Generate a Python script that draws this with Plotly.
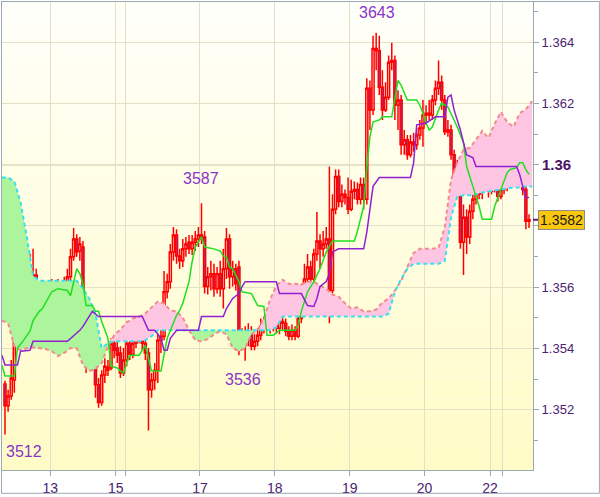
import numpy as np
import plotly.graph_objects as go

# ---------------- data ----------------
# hourly candles, position index 0..168
opens = [
    1.35284, 1.35213, 1.35245, 1.35297, 1.35427, 1.35491, 1.35423, 1.35547, 1.35466, 1.35627,
    1.35640, 1.35498, 1.35524, 1.35569, 1.35514, 1.35589, 1.35563, 1.35602, 1.35579, 1.35595,
    1.35605, 1.35634, 1.35699, 1.35757, 1.35718, 1.35731, 1.35427, 1.35368, 1.35433, 1.35394,
    1.35281, 1.35223, 1.35313, 1.35339, 1.35336, 1.35417, 1.35401, 1.35385, 1.35320, 1.35362,
    1.35417, 1.35381, 1.35417, 1.35443, 1.35472, 1.35417, 1.35385, 1.35265, 1.35297, 1.35329,
    1.35427, 1.35440, 1.35585, 1.35618, 1.35715, 1.35770, 1.35702, 1.35686, 1.35725, 1.35747,
    1.35725, 1.35747, 1.35757, 1.35770, 1.35764, 1.35602, 1.35634, 1.35644, 1.35595, 1.35644,
    1.35595, 1.35660, 1.35757, 1.35634, 1.35660, 1.35666, 1.35423, 1.35443, 1.35427, 1.35456,
    1.35407, 1.35423, 1.35443, 1.35472, 1.35482, 1.35491, 1.35472, 1.35482, 1.35466, 1.35488,
    1.35482, 1.35456, 1.35440, 1.35459, 1.35440, 1.35498, 1.35572, 1.35627, 1.35666, 1.35627,
    1.35708, 1.35751, 1.35725, 1.35741, 1.35757, 1.35589, 1.35854, 1.35961, 1.35880, 1.35903,
    1.35893, 1.35854, 1.35913, 1.35919, 1.35887, 1.35935, 1.35887, 1.36249, 1.36178, 1.36379,
    1.36372, 1.36253, 1.36178, 1.36220, 1.36334, 1.36340, 1.36194, 1.36211, 1.36065, 1.36081,
    1.36032, 1.36074, 1.36065, 1.36097, 1.36120, 1.36162, 1.36168, 1.36162, 1.36211, 1.36249,
    1.36269, 1.36211, 1.36107, 1.36113, 1.36032, 1.35935, 1.35929, 1.35747, 1.35828, 1.35764,
    1.35848, 1.35887, 1.35925, 1.35909, 1.35968, 1.35984, 1.35913, 1.35925, 1.35932, 1.35896,
    1.35919, 1.35935, 1.36071, 1.36049, 1.36081, 1.36074, 1.36091, 1.35919, 1.35815,
]
highs = [
    1.35294, 1.35265, 1.35362, 1.35466, 1.35563, 1.35524, 1.35666, 1.35595, 1.35708, 1.35725,
    1.35660, 1.35563, 1.35595, 1.35589, 1.35611, 1.35627, 1.35621, 1.35627, 1.35618, 1.35634,
    1.35660, 1.35725, 1.35793, 1.35773, 1.35764, 1.35751, 1.35466, 1.35456, 1.35466, 1.35417,
    1.35303, 1.35329, 1.35368, 1.35362, 1.35433, 1.35440, 1.35427, 1.35407, 1.35401, 1.35449,
    1.35433, 1.35440, 1.35466, 1.35498, 1.35491, 1.35449, 1.35401, 1.35320, 1.35352, 1.35449,
    1.35466, 1.35653, 1.35644, 1.35741, 1.35796, 1.35789, 1.35725, 1.35757, 1.35764, 1.35770,
    1.35770, 1.35783, 1.35796, 1.35874, 1.35783, 1.35666, 1.35686, 1.35676, 1.35666, 1.35686,
    1.35725, 1.35793, 1.35773, 1.35686, 1.35676, 1.35686, 1.35466, 1.35472, 1.35482, 1.35472,
    1.35446, 1.35466, 1.35498, 1.35504, 1.35504, 1.35504, 1.35504, 1.35498, 1.35504, 1.35504,
    1.35498, 1.35472, 1.35478, 1.35472, 1.35569, 1.35611, 1.35676, 1.35708, 1.35686, 1.35725,
    1.35845, 1.35773, 1.35783, 1.35796, 1.35994, 1.35903, 1.35984, 1.35984, 1.35935, 1.35919,
    1.35958, 1.35951, 1.35945, 1.35942, 1.35958, 1.35958, 1.36282, 1.36275, 1.36421, 1.36431,
    1.36421, 1.36308, 1.36269, 1.36356, 1.36398, 1.36356, 1.36243, 1.36227, 1.36113, 1.36097,
    1.36097, 1.36104, 1.36120, 1.36146, 1.36211, 1.36194, 1.36211, 1.36227, 1.36275, 1.36340,
    1.36291, 1.36227, 1.36146, 1.36130, 1.36049, 1.36016, 1.35945, 1.35870, 1.35854, 1.35870,
    1.35919, 1.35951, 1.35951, 1.35990, 1.36016, 1.36000, 1.35951, 1.35958, 1.35951, 1.35942,
    1.35958, 1.36097, 1.36097, 1.36113, 1.36120, 1.36130, 1.36107, 1.35935, 1.35838,
]
lows = [
    1.35119, 1.35193, 1.35232, 1.35255, 1.35407, 1.35394, 1.35407, 1.35440, 1.35449, 1.35563,
    1.35466, 1.35482, 1.35504, 1.35491, 1.35504, 1.35547, 1.35547, 1.35563, 1.35569, 1.35576,
    1.35572, 1.35621, 1.35686, 1.35699, 1.35686, 1.35417, 1.35320, 1.35346, 1.35342, 1.35239,
    1.35206, 1.35213, 1.35287, 1.35310, 1.35329, 1.35368, 1.35352, 1.35303, 1.35310, 1.35342,
    1.35362, 1.35368, 1.35401, 1.35417, 1.35394, 1.35362, 1.35132, 1.35239, 1.35265, 1.35287,
    1.35385, 1.35427, 1.35563, 1.35595, 1.35686, 1.35676, 1.35660, 1.35666, 1.35699, 1.35708,
    1.35705, 1.35718, 1.35731, 1.35741, 1.35579, 1.35576, 1.35589, 1.35569, 1.35579, 1.35569,
    1.35530, 1.35627, 1.35595, 1.35602, 1.35589, 1.35378, 1.35401, 1.35360, 1.35407, 1.35394,
    1.35394, 1.35407, 1.35427, 1.35449, 1.35459, 1.35449, 1.35456, 1.35449, 1.35446, 1.35459,
    1.35440, 1.35427, 1.35427, 1.35427, 1.35433, 1.35482, 1.35547, 1.35611, 1.35602, 1.35611,
    1.35686, 1.35660, 1.35699, 1.35725, 1.35482, 1.35579, 1.35838, 1.35861, 1.35861, 1.35870,
    1.35838, 1.35848, 1.35887, 1.35870, 1.35870, 1.35854, 1.35870, 1.36113, 1.36162, 1.36308,
    1.36227, 1.36146, 1.36172, 1.36211, 1.36308, 1.36146, 1.36113, 1.36032, 1.36032, 1.36016,
    1.36023, 1.36042, 1.36049, 1.36081, 1.36058, 1.36130, 1.36146, 1.36146, 1.36194, 1.36227,
    1.36178, 1.36097, 1.36091, 1.36016, 1.35919, 1.35903, 1.35725, 1.35640, 1.35708, 1.35741,
    1.35822, 1.35870, 1.35887, 1.35887, 1.35958, 1.35893, 1.35903, 1.35909, 1.35880, 1.35887,
    1.35903, 1.35913, 1.36023, 1.36026, 1.36049, 1.36055, 1.35900, 1.35789, 1.35793,
]
closes = [
    1.35213, 1.35245, 1.35303, 1.35427, 1.35498, 1.35417, 1.35547, 1.35466, 1.35627, 1.35640,
    1.35498, 1.35524, 1.35569, 1.35514, 1.35589, 1.35563, 1.35602, 1.35579, 1.35595, 1.35605,
    1.35634, 1.35699, 1.35757, 1.35715, 1.35741, 1.35433, 1.35368, 1.35433, 1.35394, 1.35281,
    1.35223, 1.35313, 1.35342, 1.35329, 1.35417, 1.35394, 1.35378, 1.35320, 1.35362, 1.35417,
    1.35381, 1.35417, 1.35443, 1.35472, 1.35417, 1.35385, 1.35265, 1.35297, 1.35329, 1.35427,
    1.35440, 1.35585, 1.35618, 1.35715, 1.35770, 1.35702, 1.35686, 1.35725, 1.35741, 1.35725,
    1.35747, 1.35757, 1.35770, 1.35757, 1.35602, 1.35634, 1.35644, 1.35595, 1.35644, 1.35595,
    1.35660, 1.35757, 1.35634, 1.35660, 1.35611, 1.35423, 1.35443, 1.35427, 1.35449, 1.35407,
    1.35423, 1.35443, 1.35472, 1.35482, 1.35491, 1.35466, 1.35482, 1.35466, 1.35488, 1.35482,
    1.35456, 1.35440, 1.35459, 1.35440, 1.35498, 1.35572, 1.35627, 1.35666, 1.35627, 1.35708,
    1.35751, 1.35725, 1.35741, 1.35757, 1.35589, 1.35854, 1.35961, 1.35880, 1.35903, 1.35893,
    1.35854, 1.35913, 1.35919, 1.35887, 1.35935, 1.35887, 1.36249, 1.36178, 1.36379, 1.36372,
    1.36253, 1.36178, 1.36220, 1.36334, 1.36340, 1.36194, 1.36211, 1.36065, 1.36081, 1.36032,
    1.36074, 1.36065, 1.36097, 1.36120, 1.36162, 1.36168, 1.36162, 1.36211, 1.36249, 1.36269,
    1.36211, 1.36107, 1.36113, 1.36032, 1.35935, 1.35929, 1.35747, 1.35828, 1.35764, 1.35848,
    1.35887, 1.35925, 1.35903, 1.35968, 1.35990, 1.35913, 1.35925, 1.35932, 1.35896, 1.35919,
    1.35935, 1.36071, 1.36049, 1.36081, 1.36074, 1.36091, 1.35919, 1.35815, 1.35820,
]
candle_idx = list(range(len(closes)))

# Tenkan-sen (green)
tenkan_idx = [-1, 0, 3, 4, 6, 8, 9, 11, 12, 14, 15, 17, 20, 21, 22, 23, 24, 25, 26, 28,
              29, 30, 31, 33, 34, 36, 37, 38, 39, 40, 43, 45, 46, 47, 50, 51, 52, 55, 56, 57,
              59, 60, 61, 63, 64, 67, 69, 70, 71, 72, 73, 75, 76, 79, 81, 83, 84, 86, 88, 93,
              94, 95, 97, 99, 101, 103, 104, 105, 112, 113, 115, 116, 117, 118, 120, 121, 124, 126, 127, 129,
              132, 133, 134, 135, 136, 137, 139, 140, 142, 143, 145, 147, 148, 150, 152, 153, 156, 157, 159, 161,
              162, 164, 165, 166, 167, 168]
tenkan_val = [1.35346, 1.35310, 1.35310, 1.35401, 1.35427, 1.35456, 1.35491, 1.35521, 1.35530, 1.35569,
              1.35585, 1.35595, 1.35589, 1.35572, 1.35618, 1.35660, 1.35644, 1.35611, 1.35540, 1.35540,
              1.35521, 1.35521, 1.35488, 1.35433, 1.35342, 1.35336, 1.35326, 1.35320, 1.35352, 1.35378,
              1.35378, 1.35410, 1.35368, 1.35326, 1.35326, 1.35378, 1.35433, 1.35508, 1.35524, 1.35547,
              1.35618, 1.35683, 1.35731, 1.35764, 1.35731, 1.35725, 1.35718, 1.35702, 1.35699, 1.35666,
              1.35660, 1.35618, 1.35585, 1.35579, 1.35540, 1.35537, 1.35443, 1.35443, 1.35459, 1.35459,
              1.35475, 1.35521, 1.35585, 1.35618, 1.35660, 1.35715, 1.35734, 1.35751, 1.35751, 1.35783,
              1.35864, 1.35994, 1.36091, 1.36139, 1.36146, 1.36156, 1.36156, 1.36275, 1.36259, 1.36211,
              1.36211, 1.36194, 1.36168, 1.36136, 1.36113, 1.36123, 1.36178, 1.36201, 1.36188, 1.36168,
              1.36123, 1.36071, 1.35994, 1.35929, 1.35864, 1.35822, 1.35822, 1.35864, 1.35919, 1.35974,
              1.35984, 1.35990, 1.36006, 1.36006, 1.35984, 1.35968]

# Kijun-sen (purple)
kijun_idx = [-1, 0, 4, 5, 8, 9, 20, 22, 24, 25, 27, 28, 30, 44, 46, 48, 50, 51, 52, 53,
             55, 62, 63, 70, 71, 73, 75, 76, 77, 87, 88, 95, 97, 99, 100, 101, 103, 104, 105, 107,
             115, 116, 117, 118, 120, 130, 131, 132, 135, 138, 141, 142, 143, 144, 146, 148, 150, 151, 164, 165,
             166, 167, 168]
kijun_val = [1.35378, 1.35346, 1.35346, 1.35391, 1.35394, 1.35423, 1.35423, 1.35440, 1.35459, 1.35472,
             1.35504, 1.35521, 1.35504, 1.35504, 1.35459, 1.35459, 1.35433, 1.35394, 1.35394, 1.35433,
             1.35459, 1.35459, 1.35504, 1.35504, 1.35530, 1.35563, 1.35579, 1.35602, 1.35618, 1.35618,
             1.35579, 1.35579, 1.35540, 1.35537, 1.35563, 1.35602, 1.35618, 1.35644, 1.35715, 1.35725,
             1.35725, 1.35780, 1.35854, 1.35929, 1.35958, 1.35958, 1.36006, 1.36130, 1.36136, 1.36156,
             1.36156, 1.36220, 1.36227, 1.36178, 1.36113, 1.36032, 1.36023, 1.35994, 1.35994, 1.35968,
             1.35929, 1.35893, 1.35893]

# Kumo (cloud): Senkou span A (salmon) and span B (cyan)
cloud_idx = list(range(-1, 170, 2))
span_a = [1.35491, 1.35482, 1.35407, 1.35394, 1.35401, 1.35404, 1.35401, 1.35398, 1.35391, 1.35375,
          1.35385, 1.35401, 1.35401, 1.35346, 1.35326, 1.35333, 1.35352, 1.35407, 1.35443, 1.35462,
          1.35485, 1.35498, 1.35504, 1.35514, 1.35534, 1.35553, 1.35547, 1.35524, 1.35521, 1.35501,
          1.35459, 1.35427, 1.35423, 1.35430, 1.35446, 1.35456, 1.35446, 1.35401, 1.35391, 1.35401,
          1.35446, 1.35459, 1.35498, 1.35560, 1.35605, 1.35624, 1.35611, 1.35611, 1.35608, 1.35618,
          1.35618, 1.35605, 1.35595, 1.35576, 1.35569, 1.35547, 1.35530, 1.35534, 1.35521, 1.35521,
          1.35527, 1.35550, 1.35563, 1.35589, 1.35621, 1.35666, 1.35712, 1.35725, 1.35725, 1.35725,
          1.35728, 1.35796, 1.35951, 1.36006, 1.36049, 1.36055, 1.36081, 1.36110, 1.36087, 1.36133,
          1.36172, 1.36139, 1.36123, 1.36168, 1.36181, 1.36207]
span_b = [1.35958, 1.35958, 1.35945, 1.35877, 1.35764, 1.35637, 1.35621, 1.35621, 1.35621, 1.35621,
          1.35621, 1.35621, 1.35621, 1.35595, 1.35563, 1.35514, 1.35401, 1.35417, 1.35423, 1.35423,
          1.35423, 1.35423, 1.35423, 1.35427, 1.35440, 1.35459, 1.35459, 1.35459, 1.35459, 1.35459,
          1.35459, 1.35459, 1.35459, 1.35459, 1.35459, 1.35459, 1.35459, 1.35459, 1.35459, 1.35459,
          1.35459, 1.35459, 1.35459, 1.35459, 1.35469, 1.35504, 1.35504, 1.35504, 1.35504, 1.35504,
          1.35504, 1.35504, 1.35504, 1.35504, 1.35504, 1.35504, 1.35504, 1.35504, 1.35504, 1.35504,
          1.35504, 1.35504, 1.35514, 1.35585, 1.35627, 1.35660, 1.35676, 1.35676, 1.35676, 1.35676,
          1.35676, 1.35686, 1.35828, 1.35896, 1.35900, 1.35900, 1.35903, 1.35909, 1.35913, 1.35916,
          1.35919, 1.35922, 1.35925, 1.35925, 1.35929, 1.35929]

# day separators (between candles) and labels
day_pos = [14.5, 35.5, 38.5, 62.5, 86.5, 110.5, 134.5, 155.5, 159.5]
day_labels = ["13", "15", "", "17", "18", "19", "20", "22", ""]
price_ticks = [1.352, 1.354, 1.356, 1.358, 1.360, 1.362, 1.364]
price_tick_text = ["1.352", "1.354", "1.356", "", "", "1.362", "1.364"]
minor_ticks = [1.351, 1.353, 1.355, 1.357, 1.359, 1.361, 1.363, 1.365]

# ---------------- figure ----------------
FONT = "Liberation Sans, Arial, sans-serif"
TXT = "#4b1d73"
LBL = "#8a35c8"
AX = "#9aa8b4"

A = np.array(span_a)
B = np.array(span_b)
top = np.maximum(A, B)

fig = go.Figure()
# pink cloud where A above B
fig.add_trace(go.Scatter(x=cloud_idx, y=B, mode="lines", line=dict(width=0), hoverinfo="skip"))
fig.add_trace(go.Scatter(x=cloud_idx, y=top, mode="lines", line=dict(width=0),
                         fill="tonexty", fillcolor="#ffc6e4", hoverinfo="skip"))
# green cloud where B above A
fig.add_trace(go.Scatter(x=cloud_idx, y=A, mode="lines", line=dict(width=0), hoverinfo="skip"))
fig.add_trace(go.Scatter(x=cloud_idx, y=top, mode="lines", line=dict(width=0),
                         fill="tonexty", fillcolor="#acf59c", hoverinfo="skip"))
# cloud edges
fig.add_trace(go.Scatter(x=cloud_idx, y=span_a, mode="lines",
                         line=dict(color="#f08c8c", width=2, dash="4px,3px")))
fig.add_trace(go.Scatter(x=cloud_idx, y=span_b, mode="lines",
                         line=dict(color="#3ae0ee", width=2, dash="4px,3px")))

fig.add_trace(go.Candlestick(
    x=candle_idx, open=opens, high=highs, low=lows, close=closes,
    increasing=dict(line=dict(color="#ff0000", width=1.5), fillcolor="rgba(0,0,0,0)"),
    decreasing=dict(line=dict(color="#ff0000", width=1.5), fillcolor="#7446c4"),
    whiskerwidth=0,
))

fig.add_trace(go.Scatter(x=tenkan_idx, y=tenkan_val, mode="lines",
                         line=dict(color="#1ee01e", width=1.5)))
fig.add_trace(go.Scatter(x=kijun_idx, y=kijun_val, mode="lines",
                         line=dict(color="#9020d0", width=1.5)))

# background gradient bands
shapes = []
n = 40
for k in range(n):
    t = k / (n - 1)
    g = round(255 - 4 * t)
    b = round(250 - 52 * t)
    shapes.append(dict(type="rect", xref="paper", yref="paper",
                       x0=0, x1=1, y0=1 - (k + 1) / n, y1=1 - k / n,
                       fillcolor=f"rgb(255,{g},{b})", line=dict(width=0), layer="below"))
# darker 1.36 grid line
shapes.append(dict(type="line", xref="paper", yref="y", x0=0, x1=1, y0=1.36, y1=1.36,
                   line=dict(color="#d3cfa6", width=1.5), layer="between"))
# current price marker tick
shapes.append(dict(type="line", xref="paper", yref="y", x0=1, x1=1 + 6 / 532,
                   y0=closes[-1], y1=closes[-1], line=dict(color="#5a2080", width=2)))
# outer frame
shapes.append(dict(type="rect", xref="paper", yref="paper",
                   x0=-0.5 / 532, x1=598.5 / 532, y0=(473 - 496.5) / 472, y1=(473 - 0.5) / 472,
                   line=dict(color=AX, width=1), fillcolor="rgba(0,0,0,0)"))

# extreme labels from data
hi_i = int(np.argmax(highs))
lo_i = int(np.argmin(lows))
loc_hi_i = int(np.argmax(highs[40:80])) + 40
loc_lo_i = int(np.argmin(lows[60:100])) + 60


def code(v):
    return f"{int(round(v * 1e4)) % 10000}"


annotations = [
    dict(x=hi_i, y=highs[hi_i], text=code(highs[hi_i]), showarrow=False,
         yanchor="bottom", yshift=10, xshift=1),
    dict(x=loc_hi_i, y=highs[loc_hi_i], text=code(highs[loc_hi_i]), showarrow=False,
         yanchor="bottom", yshift=14, xshift=-1),
    dict(x=loc_lo_i, y=lows[loc_lo_i], text=code(lows[loc_lo_i]), showarrow=False,
         yanchor="top", yshift=-8, xshift=-2),
    dict(x=lo_i, y=lows[lo_i], text=code(lows[lo_i]), showarrow=False,
         yanchor="top", xanchor="left", yshift=-7, xshift=-1),
]
for a in annotations:
    a.update(xref="x", yref="y", font=dict(family=FONT, size=16, color=LBL))

annotations.append(dict(xref="paper", yref="y", x=1, y=1.36, xanchor="left", xshift=7,
                        text="<b>1.36</b>", showarrow=False,
                        font=dict(family=FONT, size=15, color="#4a1465")))
annotations.append(dict(xref="paper", yref="y", x=1, y=closes[-1], xanchor="left", xshift=5,
                        text=f"{closes[-1]:.4f}", showarrow=False, bgcolor="#f9c80e",
                        bordercolor="#8a8a8a", borderwidth=1, borderpad=1,
                        font=dict(family=FONT, size=14, color="#1a1a1a")))

fig.update_layout(
    width=600, height=497,
    margin=dict(l=1, r=67, t=1, b=24),
    paper_bgcolor="white", plot_bgcolor="rgba(0,0,0,0)",
    showlegend=False, hovermode=False,
    boxgap=0.05,
    shapes=shapes, annotations=annotations,
    font=dict(family=FONT, color=TXT),
    xaxis=dict(range=[-0.96, 169.28], tickmode="array", tickvals=day_pos, ticktext=day_labels,
               showgrid=True, gridcolor="#e4e0c6", gridwidth=1, zeroline=False,
               ticks="outside", ticklen=5, tickcolor=AX,
               showline=True, linecolor=AX, mirror=True,
               rangeslider=dict(visible=False),
               tickfont=dict(family=FONT, size=14, color=TXT)),
    yaxis=dict(range=[1.35003, 1.36531], side="right", tickmode="array",
               tickvals=price_ticks, ticktext=price_tick_text,
               showgrid=True, gridcolor="#e4e0c6", gridwidth=1, zeroline=False,
               ticks="outside", ticklen=5, tickcolor=AX,
               showline=True, linecolor=AX, mirror=True,
               minor=dict(tickmode="array", tickvals=minor_ticks, ticks="outside",
                          ticklen=4, tickcolor=AX, showgrid=False),
               tickfont=dict(family=FONT, size=13, color=TXT)),
)

fig.write_html("out.html", config={"displayModeBar": False},
               post_script="document.body.style.margin='0';document.body.style.padding='0';")
